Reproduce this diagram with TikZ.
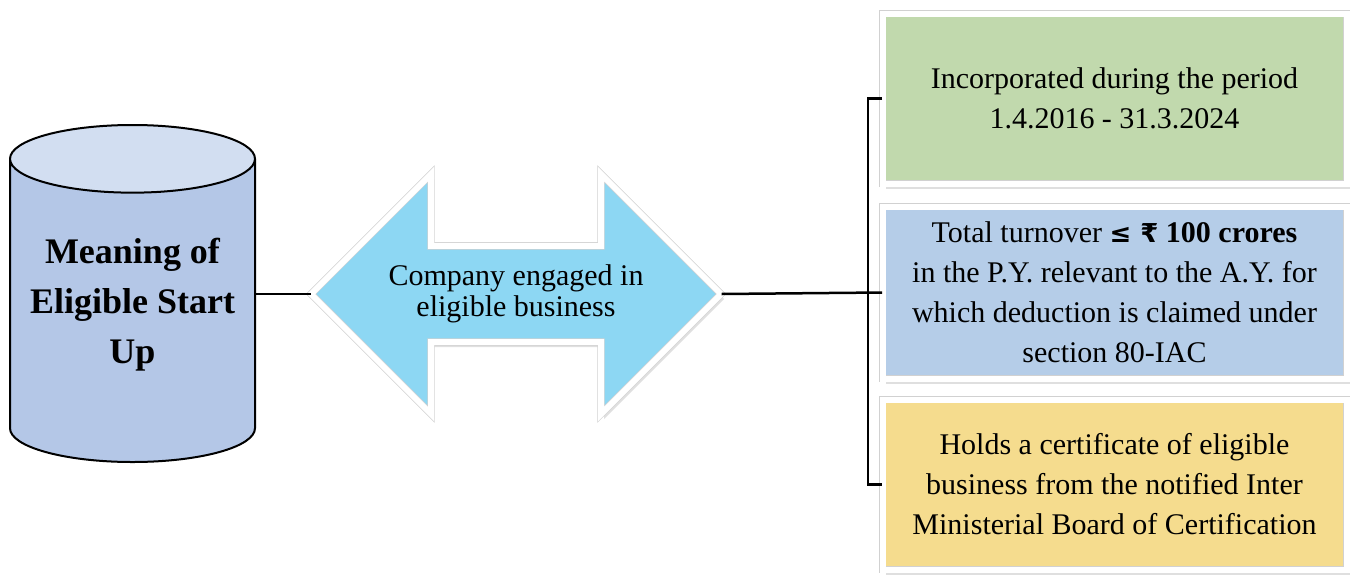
\documentclass[tikz,border=0pt]{standalone}
\usepackage{fontspec}
\setmainfont{Liberation Serif}
\newfontfamily\symfont{DejaVu Sans}
\usetikzlibrary{shapes.geometric,shapes.arrows,shadows}

\definecolor{cylbody}{HTML}{B4C7E7}
\definecolor{cyltop}{HTML}{D2DEF1}
\definecolor{arrowfill}{HTML}{8DD7F3}
\definecolor{greenfill}{HTML}{C1D9AD}
\definecolor{bluefill}{HTML}{B5CDE8}
\definecolor{yellowfill}{HTML}{F5DC8E}

\begin{document}
\begin{tikzpicture}[x=1pt, y=-1pt,
    drum/.style={cylinder, shape border rotate=90, aspect=0.33, draw=black, line width=2pt, cylinder uses custom fill, cylinder body fill=cylbody, cylinder end fill=cyltop, minimum width=245pt, minimum height=337pt, inner sep=0pt, text depth=20pt, align=center, font=\fontsize{36}{50}\selectfont\bfseries},
    frame/.style={draw=black!18, double=white, double distance=6pt, line width=0.7pt, drop shadow={opacity=0.25, shadow xshift=3pt, shadow yshift=-5pt}},
    twoway/.style={double arrow, double arrow head extend=49pt, minimum width=240pt, minimum height=410pt, fill=arrowfill, frame, align=center, font=\fontsize{30}{31}\selectfont},
    infobox/.style={rectangle, frame, minimum width=464pt, minimum height=170pt, align=center, font=\fontsize{30}{40}\selectfont},
    link/.style={line width=2.5pt, draw=black}
]
\useasboundingbox (0,0) rectangle (1354,576);

% Left: the cylinder
\node[drum, anchor=shape center] (startup) at (132.5, 293.5) {Meaning of\\Eligible Start\\Up};

% Middle: the double arrow
\node[twoway] (company) at (516, 294) {Company engaged in\\eligible business};

% Right: the three conditions
\node[infobox, fill=greenfill]  (period)   at (1114.5, 98.5) {Incorporated during the period\\1.4.2016 - 31.3.2024};
\node[infobox, fill=bluefill, minimum height=172pt] (turnover) at (1114.5, 292.5) {Total turnover {\symfont\bfseries\fontsize{26}{40}\selectfont ≤ ₹} \textbf{100 crores}\\ in the P.Y. relevant to the A.Y. for\\which deduction is claimed under\\section 80-IAC};
\node[infobox, fill=yellowfill] (cert)     at (1114.5, 484.5) {Holds a certificate of eligible\\business from the notified Inter\\Ministerial Board of Certification};

% Connectors
\draw[link] (company.west -| startup.east) -- (company.west);
\draw[link] (company.east) -- (turnover.west);
\draw[link] (period.west) -- ++(-14,0) |- (cert.west);

\end{tikzpicture}
\end{document}
